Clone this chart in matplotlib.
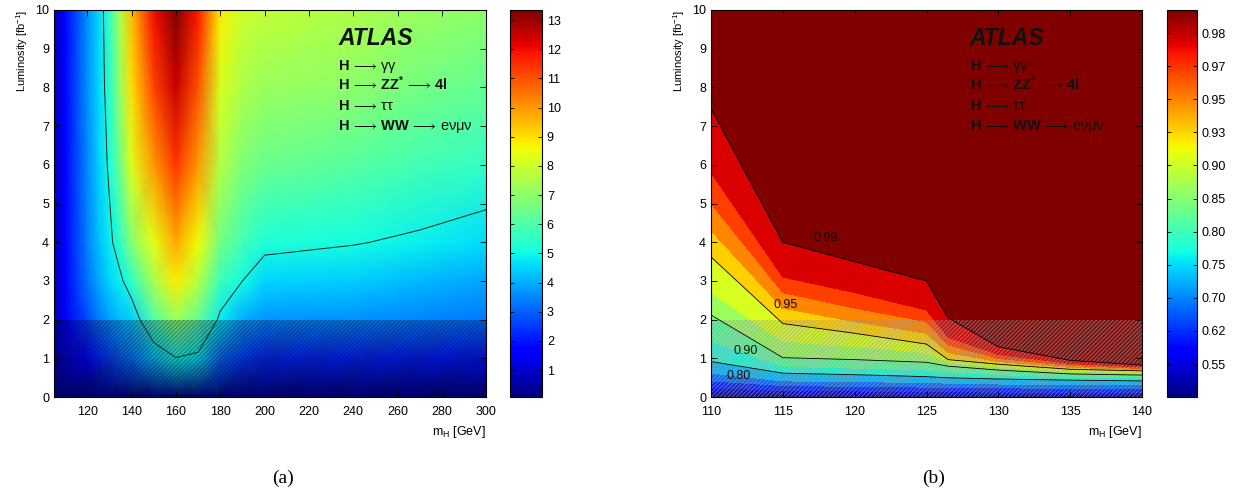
import numpy as np
import matplotlib
matplotlib.use('Agg')
import matplotlib.pyplot as plt
from matplotlib.colors import BoundaryNorm, Normalize
from matplotlib.cm import ScalarMappable

plt.rcParams['font.family'] = ['Liberation Sans', 'DejaVu Sans']
plt.rcParams['mathtext.fontset'] = 'custom'
plt.rcParams['mathtext.rm'] = 'Liberation Sans'
plt.rcParams['mathtext.bf'] = 'Liberation Sans:bold'
plt.rcParams['mathtext.it'] = 'Liberation Sans:italic'
plt.rcParams['hatch.linewidth'] = 0.6

# ---- panel (a): expected significance vs m_H and luminosity ----
masses_a = [105, 110, 120, 125, 130, 135, 140, 150, 160, 170, 180, 190, 200, 240, 270, 300]
lumi_a = [0, 1, 2, 3, 4, 6, 8, 10]
signif_L0 = [0.1, 0.1, 0.1, 0.1, 0.1, 0.1, 0.1, 0.1, 0.1, 0.1, 0.1, 0.1, 0.1, 0.1, 0.1, 0.1]
signif_L1 = [0.6, 1.1, 1.8, 2.2, 2.6, 3.0, 3.3, 4.3, 4.95, 4.75, 3.2, 2.6, 2.3, 2.2, 2.1, 2.0]
signif_L2 = [0.75, 1.4, 2.7, 3.3, 3.8, 4.2, 4.4, 6.0, 7.2, 6.3, 4.8, 4.0, 3.7, 3.6, 3.45, 3.3]
signif_L3 = [0.8, 1.55, 3.2, 3.9, 4.5, 4.85, 5.5, 7.4, 8.8, 7.6, 5.7, 5.0, 4.5, 4.4, 4.15, 3.9]
signif_L4 = [0.8, 1.6, 3.4, 4.2, 4.8, 5.5, 6.9, 8.4, 9.8, 8.6, 6.6, 5.8, 5.25, 5.05, 4.85, 4.6]
signif_L6 = [0.8, 1.6, 3.5, 4.4, 5.15, 6.6, 8.3, 10.0, 11.4, 10.0, 7.6, 6.8, 6.4, 6.1, 5.8, 5.55]
signif_L8 = [0.8, 1.6, 3.6, 4.5, 5.4, 7.2, 9.0, 11.2, 12.5, 11.0, 8.2, 7.5, 7.2, 7.0, 6.6, 6.3]
signif_L10 = [0.8, 1.6, 3.6, 4.5, 5.6, 7.5, 9.5, 12.0, 13.3, 11.8, 8.8, 8.0, 7.8, 7.5, 7.2, 7.0]
signif_contour = [5]

# ---- panel (b): probability vs m_H and luminosity (luminosity where each level is reached) ----
masses_b = [110, 115, 120, 125, 126.5, 130, 135, 140]
prob_levels = [0.55, 0.62, 0.70, 0.75, 0.80, 0.85, 0.90, 0.93, 0.95, 0.96, 0.97, 0.98, 0.99]
lumi_at_level = [
    [0.12, 0.08, 0.07, 0.07, 0.07, 0.06, 0.06, 0.06],
    [0.25, 0.17, 0.16, 0.15, 0.14, 0.13, 0.13, 0.12],
    [0.42, 0.30, 0.28, 0.26, 0.25, 0.24, 0.23, 0.22],
    [0.62, 0.42, 0.40, 0.38, 0.36, 0.34, 0.33, 0.32],
    [0.92, 0.62, 0.58, 0.53, 0.50, 0.47, 0.44, 0.42],
    [1.45, 0.80, 0.75, 0.70, 0.65, 0.58, 0.52, 0.50],
    [2.12, 1.02, 0.97, 0.90, 0.80, 0.70, 0.60, 0.57],
    [2.70, 1.45, 1.30, 1.15, 0.90, 0.78, 0.67, 0.63],
    [3.62, 1.90, 1.65, 1.37, 0.97, 0.85, 0.72, 0.68],
    [4.30, 2.30, 1.95, 1.65, 1.15, 0.92, 0.77, 0.71],
    [5.00, 2.70, 2.30, 1.95, 1.35, 1.00, 0.82, 0.74],
    [5.80, 3.10, 2.70, 2.25, 1.55, 1.10, 0.87, 0.78],
    [7.45, 4.00, 3.50, 3.00, 2.05, 1.30, 0.95, 0.83],
]
prob_floor, prob_top = 0.50, 1.00
fill_levels_b = [0.45, 0.55, 0.62, 0.70, 0.75, 0.80, 0.85, 0.90, 0.93, 0.95, 0.96, 0.97, 0.98, 0.99, 1.01]
line_levels_b = [0.80, 0.90, 0.95, 0.99]
line_labels_b = ['0.80', '0.90', '0.95', '0.99']
line_label_pos = [(111.9, 0.55), (112.4, 1.2), (115.2, 2.37), (118.0, 4.1)]
cbar_b_labels = ['0.55', '0.62', '0.70', '0.75', '0.80', '0.85', '0.90', '0.93', '0.95', '0.97', '0.98']

channels = [r'$\mathbf{H}\,\longrightarrow\,\mathrm{\gamma\gamma}$',
            r'$\mathbf{H}\,\longrightarrow\,\mathbf{ZZ^{*}}\,\longrightarrow\,\mathbf{4l}$',
            r'$\mathbf{H}\,\longrightarrow\,\mathrm{\tau\tau}$',
            r'$\mathbf{H}\,\longrightarrow\,\mathbf{WW}\,\longrightarrow\,\mathrm{e\nu\mu\nu}$']
hatch_lumi = 2.0

fig = plt.figure(figsize=(12.42, 4.94), dpi=100)
ax_a = fig.add_axes([0.0435, 0.196, 0.348, 0.784])
cax_a = fig.add_axes([0.4106, 0.196, 0.0258, 0.784])
ax_b = fig.add_axes([0.5725, 0.196, 0.347, 0.784])
cax_b = fig.add_axes([0.9396, 0.196, 0.0242, 0.784])

# panel (a)
M, L = np.meshgrid(masses_a, lumi_a)
Z = np.array([signif_L0, signif_L1, signif_L2, signif_L3, signif_L4, signif_L6, signif_L8, signif_L10])
pm = ax_a.pcolormesh(M, L, Z, shading='gouraud', cmap='jet', vmin=0.07, vmax=13.35)
ax_a.contour(M, L, Z, levels=signif_contour, colors='#1a2a1a', linewidths=0.7)
ax_a.axhspan(0, hatch_lumi, facecolor=(0, 0, 0.1, 0.2), edgecolor=(0, 0, 0.15, 0.4),
             hatch='////////', linewidth=0)
ax_a.set_xlim(105, 300)
ax_a.set_ylim(0, 10)
ax_a.set_xticks(range(120, 301, 20))
cb_a = fig.colorbar(pm, cax=cax_a)
cb_a.set_ticks(range(1, 14))

# panel (b)
n_b = len(masses_b)
Mb = np.array([masses_b] * (len(prob_levels) + 2))
Lb = np.array([[0.0] * n_b] + lumi_at_level + [[10.0] * n_b])
Pb = np.array([[p] * n_b for p in [prob_floor] + prob_levels + [prob_top]])
norm_b = BoundaryNorm(fill_levels_b, 256)
ax_b.contourf(Mb, Lb, Pb, levels=fill_levels_b, cmap='jet', norm=norm_b)
ax_b.contour(Mb, Lb, Pb, levels=line_levels_b, colors='k', linewidths=0.6)
for txt, (xm, yl) in zip(line_labels_b, line_label_pos):
    ax_b.text(xm, yl, txt, fontsize=9, color='#101010', ha='center', va='center')
ax_b.axhspan(0, hatch_lumi, facecolor=(0.5, 0.5, 0.5, 0.12), edgecolor=(0.62, 0.62, 0.62, 0.7),
             hatch='////////', linewidth=0)
ax_b.set_xlim(110, 140)
ax_b.set_ylim(0, 10)
ax_b.set_xticks(range(110, 141, 5))
sm = ScalarMappable(norm=Normalize(0, 11.7), cmap='jet')
cb_b = fig.colorbar(sm, cax=cax_b)
cb_b.set_ticks(range(1, 12))
cb_b.set_ticklabels(cbar_b_labels)

for ax, xt in [(ax_a, 0.657), (ax_b, 0.60)]:
    ax.set_yticks(range(0, 11))
    ax.tick_params(direction='in', top=True, right=True, length=4, width=0.6, labelsize=9)
    ax.tick_params(axis='x', pad=6)
    ax.set_xlabel(r'm$_\mathregular{H}$ [GeV]', loc='right', fontsize=9, labelpad=5)
    ax.set_ylabel(r'Luminosity [fb$^{-1}$]', loc='top', fontsize=8, labelpad=4)
    ax.text(xt, 0.9096, 'ATLAS', transform=ax.transAxes, fontsize=16.5, fontweight='bold',
            fontstyle='italic', color='#111111')
    for i, ch in enumerate(channels):
        ax.text(xt, 0.845 - 0.052 * i, ch, transform=ax.transAxes, fontsize=10.5, color='#111111')
    for s in ax.spines.values():
        s.set_linewidth(0.8)

for cb in (cb_a, cb_b):
    cb.ax.tick_params(direction='in', left=True, right=True, length=3, width=0.6, labelsize=9)
    cb.outline.set_linewidth(0.8)

fig.text(0.228, 0.022, '(a)', fontsize=14, family=['Liberation Serif'], ha='center')
fig.text(0.752, 0.022, '(b)', fontsize=14, family=['Liberation Serif'], ha='center')

fig.savefig('out.png', dpi=100)
